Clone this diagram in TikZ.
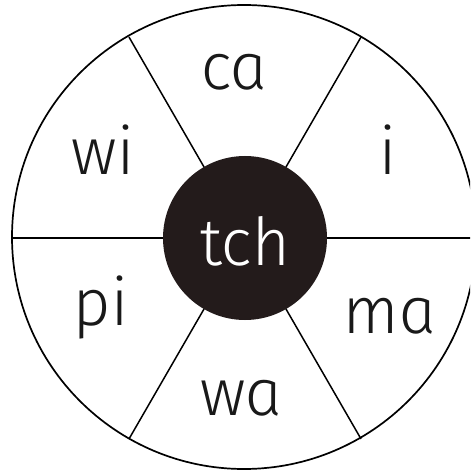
\documentclass[tikz,border=0pt]{standalone}
\usepackage{fontspec}
\newfontfamily\wheelfont{Fira Sans Light Italic}[FakeSlant=-0.14]
\definecolor{hubfill}{HTML}{231B1B}
\begin{document}
\begin{tikzpicture}[x=1pt,y=-1pt,
  syllable/.style={inner sep=0pt, anchor=base, text=black!90, font=\wheelfont\fontsize{66}{74}\selectfont},
  rim/.style={draw=black, line width=1.7pt},
  spoke/.style={draw=black, line width=1.5pt}]
\clip (0,0) rectangle (470,470);
\fill[white] (0,0) rectangle (470,470);
\coordinate (c) at (245,238);
\draw[rim] (244,237) circle[radius=232];
\foreach \a in {0,60,...,300}
  \draw[spoke] (c) -- ++(\a:232);
\node[circle, fill=hubfill, minimum size=164pt, inner sep=0pt] (hub) at (c) {};
\node[syllable, text=white] (tch) at (248,265) {tch};
\node[syllable] (ca) at (236.5,90) {ca};
\node[syllable] (wi) at (105.5,175) {wi};
\node[syllable] (i) at (390,175) {i};
\node[syllable] (pi) at (103.5,325) {pi};
\node[syllable] (ma) at (392,333) {ma};
\node[syllable] (wa) at (243.5,415) {wa};
\end{tikzpicture}
\end{document}
